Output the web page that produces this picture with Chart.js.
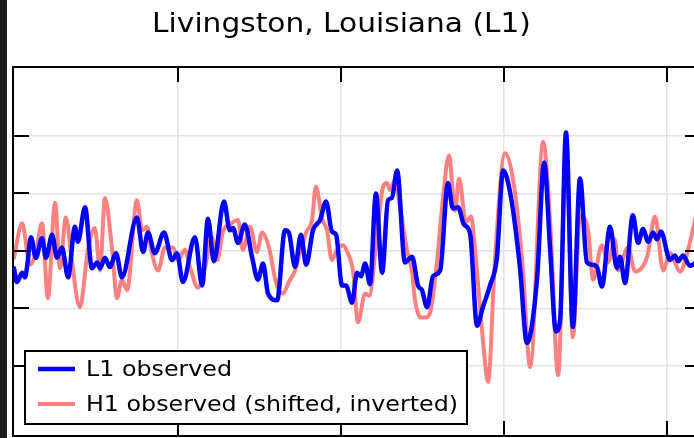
<!DOCTYPE html>
<html>
<head>
<meta charset="UTF-8">
<title>Livingston, Louisiana (L1)</title>
<script src="https://cdn.jsdelivr.net/npm/chart.js@4.4.0/dist/chart.umd.min.js"></script>
<style>
*{margin:0;padding:0;}
body{width:694px;height:438px;overflow:hidden;background:#fff;position:relative;}
#wrap{position:absolute;left:0;top:0;}
#bar{position:absolute;left:0;top:0;width:7px;height:438px;background:#1c1c1c;}
</style>
</head>
<body>
<div id="wrap"><canvas id="c" width="720" height="438"></canvas></div>
<div id="bar"></div>
<script>
// time in s, strain in units of 1e-21
var l1Time=[0.2497,0.2506,0.2522,0.2531,0.2537,0.2549,0.2564,0.2583,0.2595,0.2614,0.2629,0.2644,0.2663,0.2684,0.2693,0.2715,
	0.2736,0.2752,0.2761,0.2776,0.2791,0.2810,0.2828,0.2874,0.2893,0.2908,0.2929,0.2957,0.2982,0.2997,0.3015,0.3052,
	0.3074,0.3092,0.3110,0.3141,0.3159,0.3169,0.3184,0.3205,0.3227,0.3245,0.3261,0.3276,0.3304,0.3328,0.3340,0.3359,
	0.3377,0.3393,0.3414,0.3436,0.3454,0.3472,0.3485,0.3503,0.3515,0.3534,0.3549,0.3561,0.3574,0.3589,0.3607,0.3626,
	0.3644,0.3656,0.3672,0.3696,0.3718,0.3736,0.3748,0.3764,0.3782,0.3804,0.3828,0.3843,0.3859,0.3877,0.3896,0.3917,
	0.3935,0.3957,0.3978,0.3997,0.4021,0.4049,0.4070,0.4101,0.4123,0.4141,0.4159,0.4172,0.4190,0.4211,0.4233,0.4254,
	0.4270,0.4285,0.4300,0.4325,0.4346,0.4356,0.4371,0.4395,0.4411,0.4426,0.4442,0.4457,0.4469,0.4481,0.4509,0.4524,
	0.4534,0.4549,0.4570,0.4589];
var l1Strain=[-0.15,-0.27,-0.19,-0.23,-0.14,0.12,-0.06,0.11,-0.06,0.14,-0.06,0.03,-0.23,0.21,0.08,0.38,
	-0.15,-0.10,-0.15,-0.06,-0.14,-0.02,-0.23,0.29,-0.01,0.16,-0.02,0.16,-0.08,-0.02,-0.27,0.12,
	-0.30,0.28,-0.09,0.43,0.18,0.20,0.07,0.23,-0.05,-0.25,-0.11,-0.37,-0.43,0.18,0.16,-0.14,
	0.14,-0.12,0.18,0.27,0.43,0.17,0.14,-0.30,-0.30,-0.45,-0.19,-0.22,-0.11,-0.29,0.50,-0.19,
	0.44,0.46,0.70,-0.10,-0.05,-0.30,-0.34,-0.49,-0.22,-0.17,0.59,0.37,0.38,0.23,0.15,-0.65,
	-0.49,-0.30,-0.06,0.70,0.47,-0.15,-0.80,-0.25,0.77,0.03,-0.70,-0.60,1.03,-0.66,0.63,-0.10,
	-0.12,-0.14,-0.31,0.21,-0.15,-0.05,-0.28,0.31,0.07,0.19,0.08,0.16,0.10,0.17,-0.08,-0.04,
	-0.09,-0.04,-0.13,-0.10];
var h1Time=[0.2497,0.2522,0.2546,0.2564,0.2583,0.2601,0.2623,0.2638,0.2656,0.2675,0.2699,0.2724,0.2745,0.2761,0.2776,0.2798,
	0.2813,0.2828,0.2844,0.2874,0.2890,0.2905,0.2920,0.2939,0.2960,0.2985,0.3000,0.3021,0.3037,0.3061,0.3083,0.3104,
	0.3120,0.3138,0.3159,0.3184,0.3199,0.3221,0.3242,0.3258,0.3279,0.3301,0.3322,0.3340,0.3359,0.3374,0.3393,0.3411,
	0.3423,0.3442,0.3457,0.3472,0.3488,0.3506,0.3521,0.3537,0.3552,0.3574,0.3586,0.3613,0.3629,0.3641,0.3650,0.3666,
	0.3681,0.3702,0.3718,0.3727,0.3745,0.3758,0.3773,0.3794,0.3813,0.3831,0.3850,0.3862,0.3883,0.3899,0.3908,0.3920,
	0.3935,0.3951,0.3972,0.4003,0.4034,0.4058,0.4080,0.4120,0.4141,0.4166,0.4190,0.4211,0.4233,0.4258,0.4273,0.4300,
	0.4319,0.4340,0.4350,0.4380,0.4402,0.4439,0.4463,0.4488,0.4509,0.4540,0.4558,0.4589];
var h1Strain=[-0.06,0.24,-0.12,-0.01,0.24,-0.41,0.42,-0.15,0.29,-0.10,-0.49,0.01,0.20,-0.17,0.46,0.01,
	-0.41,-0.25,-0.34,0.44,0.18,0.21,-0.02,-0.17,0.03,0.03,-0.08,0.01,-0.14,-0.32,-0.14,0.12,
	-0.08,0.17,0.23,0.27,0.01,0.21,-0.01,0.16,0.03,-0.28,-0.37,-0.27,-0.17,-0.01,0.16,0.27,
	0.56,0.28,0.18,-0.08,0.01,0.05,-0.02,-0.18,-0.62,-0.37,-0.39,0.21,0.56,0.59,0.53,0.62,
	0.38,0.01,-0.19,-0.43,-0.58,-0.58,-0.54,-0.10,0.47,0.83,0.35,0.63,0.25,0.30,0.10,-0.28,
	-0.77,-1.14,-0.08,0.85,0.50,-0.17,-1.01,0.95,0.27,-1.08,0.92,-0.75,0.31,0.17,-0.25,0.05,
	-0.10,0.10,-0.17,0.03,-0.18,-0.05,0.30,-0.17,-0.02,-0.18,-0.06,0.31];

var timeTicks=[0.30,0.35,0.40,0.45];
var strainTicks=[-1.0,-0.5,0.0,0.5,1.0];
var titleText="Livingston, Louisiana (L1)";
var seriesNames=["L1 observed","H1 observed (shifted, inverted)"];
var seriesColors=["#0000ff","#ff8080"];

function pairs(xs,ys){
	return xs.map(function(x,i){ return {x:x,y:ys[i]}; });
}

// text in the picture is a bit wider than plain DejaVu, stretch it sideways
function wideText(ctx,text,x,y,sx){
	ctx.save();
	ctx.translate(x,y);
	ctx.scale(sx,1);
	ctx.fillText(text,0,0);
	ctx.restore();
}

var framePlugin={
	id:"frame",
	afterDraw:function(chart){
		var ctx=chart.ctx,a=chart.chartArea;
		var xs=chart.scales.x,ys=chart.scales.y;
		ctx.save();
		ctx.strokeStyle="#000";
		ctx.lineWidth=2;
		ctx.beginPath();
		timeTicks.forEach(function(t){
			var px=Math.round(xs.getPixelForValue(t));
			ctx.moveTo(px,a.top);ctx.lineTo(px,a.top+15);
			ctx.moveTo(px,a.bottom);ctx.lineTo(px,a.bottom-15);
		});
		strainTicks.forEach(function(v){
			var py=Math.round(ys.getPixelForValue(v));
			ctx.moveTo(a.left,py);ctx.lineTo(a.left+16,py);
			ctx.moveTo(a.right,py);ctx.lineTo(a.right-16,py);
		});
		ctx.stroke();
		ctx.strokeRect(a.left,a.top,a.right-a.left,a.bottom-a.top);

		// legend
		ctx.fillStyle="#fff";
		ctx.fillRect(25,351,442,73);
		ctx.strokeRect(25,351,442,73);
		ctx.font="22px 'DejaVu Sans'";
		ctx.textBaseline="middle";
		ctx.textAlign="left";
		seriesNames.forEach(function(name,i){
			var y=369+i*35;
			ctx.strokeStyle=seriesColors[i];
			ctx.lineWidth=i==0?4.5:4;
			ctx.beginPath();ctx.moveTo(38,y);ctx.lineTo(75,y);ctx.stroke();
			ctx.fillStyle="#000";
			wideText(ctx,name,86,y+1,1.08);
		});

		// title
		ctx.font="26px 'DejaVu Sans'";
		ctx.textAlign="center";
		ctx.textBaseline="alphabetic";
		ctx.fillStyle="#000";
		wideText(ctx,titleText,341.5,32,1.14);
		ctx.restore();
	}
};

var ctx=document.getElementById("c").getContext("2d");
var chart=new Chart(ctx,{
	type:"line",
	data:{
		datasets:[
			{label:seriesNames[0],data:pairs(l1Time,l1Strain),borderColor:seriesColors[0],borderWidth:4.5},
			{label:seriesNames[1],data:pairs(h1Time,h1Strain),borderColor:seriesColors[1],borderWidth:4}
		]
	},
	options:{
		responsive:false,
		animation:false,
		devicePixelRatio:1,
		layout:{padding:{left:13,top:67,right:19,bottom:2}},
		elements:{
			point:{radius:0},
			line:{cubicInterpolationMode:"monotone",fill:false,borderJoinStyle:"round",borderCapStyle:"round"}
		},
		plugins:{legend:{display:false},title:{display:false},tooltip:{enabled:false}},
		scales:{
			x:{
				type:"linear",min:0.2494,max:0.4604,
				afterBuildTicks:function(s){ s.ticks=timeTicks.map(function(v){return {value:v};}); },
				afterFit:function(s){ s.height=0; },
				ticks:{display:false},
				grid:{color:"#e3e3e3",lineWidth:1.5,tickLength:0},
				border:{display:false}
			},
			y:{
				type:"linear",min:-1.61,max:1.6,
				afterBuildTicks:function(s){ s.ticks=strainTicks.map(function(v){return {value:v};}); },
				afterFit:function(s){ s.width=0; },
				ticks:{display:false},
				grid:{color:"#e3e3e3",lineWidth:1.5,tickLength:0},
				border:{display:false}
			}
		}
	},
	plugins:[framePlugin]
});
</script>
</body>
</html>
